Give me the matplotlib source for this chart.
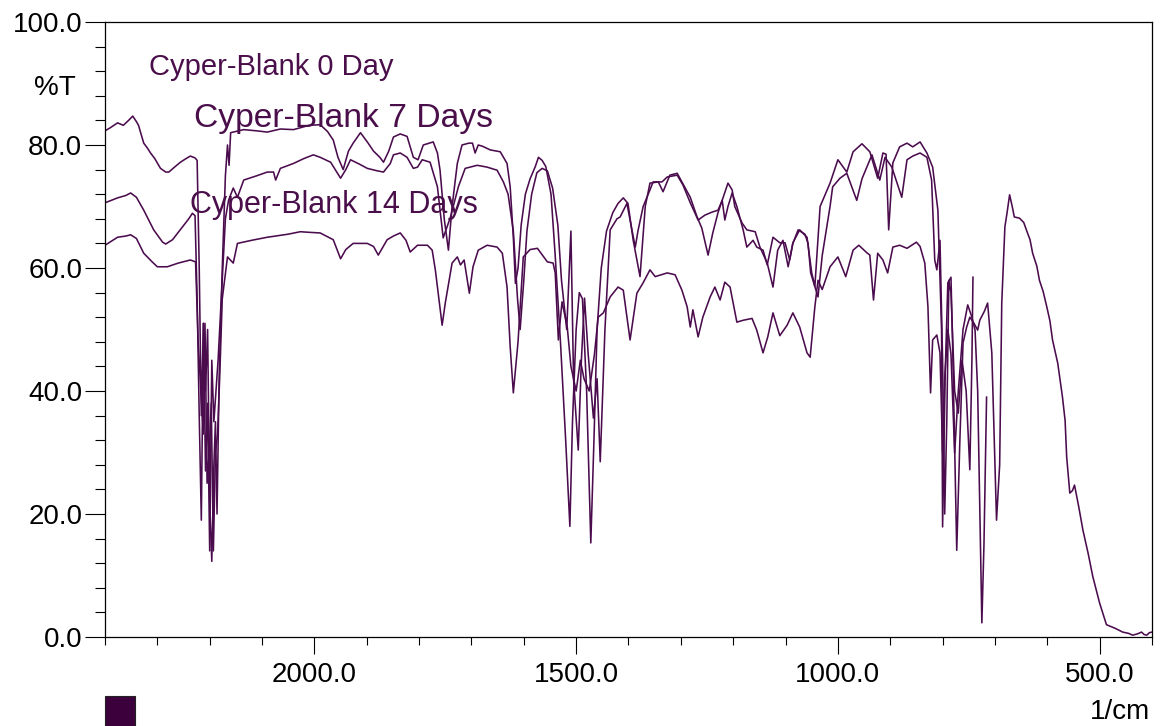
import matplotlib
matplotlib.use('Agg')
import matplotlib.pyplot as plt
from matplotlib.ticker import FixedLocator, MultipleLocator, FormatStrFormatter
from matplotlib.patches import Rectangle

plt.rcParams['font.family'] = ['Liberation Sans', 'DejaVu Sans']

## DATA (wavenumber in 1/cm, transmittance in %T)

day0_wn = [2400, 2390, 2376, 2365, 2355, 2347, 2340, 2336, 2326, 2319, 2313, 2305, 2294, 2284,
           2278, 2270, 2256, 2245, 2237, 2228, 2224, 2220, 2216, 2212, 2208, 2204, 2200, 2196,
           2192, 2189, 2186, 2182, 2176, 2170, 2166, 2163, 2160, 2150, 2135, 2110, 2090, 2065,
           2040, 2027, 2010, 1989, 1975, 1964, 1955, 1945, 1935, 1926, 1912, 1899, 1887, 1875,
           1868, 1858, 1849, 1836, 1823, 1811, 1802, 1792, 1773, 1765, 1760, 1752, 1744, 1737,
           1727, 1718, 1705, 1698, 1693, 1687, 1679, 1664, 1645, 1632, 1626, 1620, 1616, 1611,
           1605, 1597, 1588, 1578, 1572, 1565, 1558, 1548, 1540, 1530, 1520, 1512, 1507, 1500,
           1494, 1488, 1480, 1472, 1466, 1460, 1452, 1442, 1430, 1420, 1410, 1401, 1391, 1378,
           1368, 1359, 1343, 1334, 1321, 1307, 1298, 1282, 1269, 1260, 1248, 1239, 1229, 1219,
           1210, 1202, 1197, 1183, 1174, 1158, 1149, 1135, 1124, 1115, 1105, 1095, 1086, 1073,
           1059, 1050, 1044, 1034, 1015, 1000, 983, 971, 954, 939, 924, 914, 908, 903, 895,
           882, 868, 857, 843, 830, 819, 809, 802, 800, 795, 790, 784, 781, 773, 767, 761, 754,
           748, 740, 733, 729, 720, 714, 706, 697, 691, 687, 681, 677, 672, 667, 663, 653, 645,
           640, 633, 628, 620, 615, 608, 601, 595, 590, 580, 571, 566, 563, 557, 552, 548, 540,
           532, 522, 513, 500, 487, 470, 456, 445, 437, 428, 420, 415, 410, 405, 400]
day0_t = [82.3, 82.8, 83.6, 83.2, 84.0, 84.7, 83.8, 83.2, 80.3, 79.5, 78.7, 77.8, 76.2, 75.6,
          75.6, 76.2, 77.2, 77.8, 78.2, 77.9, 77.5, 60, 36, 51, 40, 50, 22, 12.3,
          28, 35, 20, 42, 60, 75, 80, 76.7, 82, 82.2, 82.5, 82.3, 82.1, 82.6,
          82.5, 82.8, 83.2, 83.3, 82.2, 80.8, 78, 76, 79, 80.3, 82, 80.5, 79, 78,
          77.2, 79, 81.3, 81.8, 81.4, 78, 77.6, 80, 80.5, 78.7, 75.9, 68, 62.9, 70,
          77, 80, 80.3, 80.3, 78.7, 80, 79.8, 79.2, 78.9, 77, 73.2, 65, 57.5, 60,
          67, 72, 74.5, 76.5, 78, 77.5, 76.5, 72, 62, 48, 32, 18, 35, 50,
          56, 55, 40, 15.3, 32, 50, 60, 66, 69, 70.5, 71.4, 70.5, 64.5, 58.6,
          70, 73.8, 74, 72.4, 75.1, 75.4, 74, 71.5, 68.3, 66.5, 62.1, 65.7, 69, 71.5,
          73.8, 72.7, 70, 67.3, 66.2, 65.9, 63.4, 60.8, 56.9, 62.9, 64.5, 60.2, 64.1, 66.2,
          65, 59.2, 57, 70, 73.8, 77.6, 75.6, 78.9, 80.2, 78.9, 74.6, 78.7, 78.5, 66.2, 77.1,
          79.7, 80.3, 79.7, 80.5, 78.7, 76.4, 69.4, 50, 17.9, 43, 57.6, 58.5, 48, 14.1, 32, 47.8, 50.4,
          52, 51, 49.9, 51.5, 53, 54.3, 46.2, 19, 28, 54.3, 66.7, 68.9, 71.9, 70, 68.3, 68.1, 67.4,
          66.2, 64.6, 62.4, 60.3, 58, 56.2, 53.7, 51.4, 48.3, 44.5, 39, 35.2, 29.3, 23.4, 23.8, 24.7, 21.2,
          17.4, 13.6, 9.8, 5.5, 2, 1.4, 0.8, 0.6, 0.3, 0.5, 0.8, 0.4, 0.3, 0.7, 0.8]

day7_wn = [2400, 2376, 2360, 2351, 2340, 2326, 2307, 2290, 2284, 2271, 2252, 2240, 2233, 2228,
           2224, 2220, 2216, 2212, 2208, 2204, 2200, 2196, 2192, 2188, 2184, 2178, 2170, 2164,
           2155, 2147, 2135, 2110, 2090, 2078, 2074, 2065, 2040, 2020, 2002, 1989, 1969, 1950,
           1940, 1931, 1912, 1899, 1880, 1868, 1855, 1849, 1836, 1823, 1811, 1803, 1794, 1779,
           1765, 1754, 1740, 1725, 1712, 1689, 1670, 1651, 1639, 1630, 1620, 1612, 1607, 1600,
           1594, 1585, 1575, 1565, 1555, 1545, 1535, 1528, 1518, 1510, 1505, 1496, 1490, 1484,
           1477, 1467, 1460, 1454, 1445, 1435, 1422, 1416, 1403, 1393, 1387, 1382, 1372, 1359,
           1353, 1336, 1326, 1307, 1296, 1282, 1267, 1254, 1240, 1229, 1221, 1216, 1210, 1202,
           1193, 1181, 1174, 1162, 1155, 1143, 1135, 1124, 1111, 1101, 1092, 1086, 1076, 1063,
           1057, 1052, 1044, 1038, 1030, 1015, 1010, 996, 983, 964, 954, 935, 920, 910, 897,
           878, 868, 857, 843, 830, 821, 815, 811, 805, 800, 796, 792, 788, 784, 777, 770,
           763, 755, 748, 744, 742]
day7_t = [70.6, 71.4, 71.8, 72.2, 71.5, 69.4, 66.2, 64.2, 63.9, 64.6, 66.7, 68, 68.9, 68.5,
          55, 36, 19, 51, 27, 38, 14, 45, 35, 40, 45, 55, 68, 71,
          73, 71.5, 74.3, 75, 75.6, 75.6, 74.3, 76.2, 77, 77.8, 78.4, 78, 77.2, 74.6,
          76, 77.6, 76.8, 76.2, 75.8, 75.6, 77, 78.4, 78.7, 78, 76.2, 76.4, 77.6, 77.2,
          73.2, 64.9, 68.3, 73.2, 76.2, 76.7, 76.4, 75.9, 74, 72, 66, 55, 50, 58,
          66, 72, 75.5, 76.2, 75.8, 73, 67, 58, 50, 66, 42, 30.4, 45, 55.1,
          46, 35.6, 42, 28.5, 50, 66.2, 68, 68.3, 70.5, 66, 63.4, 66, 70, 72.7,
          74, 74, 74.8, 75.1, 73.5, 70.6, 67.8, 68.6, 69.1, 69.4, 71, 67.8, 70, 72.2,
          70, 66.2, 63.4, 64.5, 63.4, 62.9, 60.5, 65, 64.1, 64.1, 61.3, 64, 66.2, 65.5,
          64, 59.2, 57, 55.3, 62, 70, 73.2, 74.6, 75.4, 71, 74.5, 78.4, 74.3, 78, 76.4,
          71.5, 77.6, 78.2, 78.7, 78, 74.3, 61.3, 59.7, 64.5, 45, 20, 35, 58, 56, 40, 36.4,
          45, 40, 27.2, 45, 58.5]

day14_wn = [2400, 2385, 2376, 2360, 2351, 2340, 2326, 2310, 2300, 2281, 2260, 2237, 2227, 2222,
            2217, 2212, 2209, 2205, 2201, 2197, 2193, 2189, 2185, 2181, 2176, 2166, 2155, 2147,
            2120, 2090, 2050, 2027, 2010, 1989, 1964, 1950, 1940, 1926, 1899, 1887, 1878, 1861,
            1849, 1836, 1825, 1817, 1803, 1784, 1775, 1769, 1756, 1750, 1737, 1727, 1721, 1714,
            1704, 1697, 1687, 1670, 1651, 1641, 1632, 1626, 1620, 1611, 1601, 1588, 1574, 1555,
            1544, 1540, 1534, 1527, 1517, 1510, 1500, 1492, 1485, 1475, 1465, 1458, 1448, 1435,
            1420, 1410, 1397, 1384, 1372, 1359, 1349, 1326, 1311, 1298, 1288, 1282, 1277, 1267,
            1258, 1244, 1235, 1225, 1216, 1206, 1193, 1181, 1164, 1155, 1143, 1134, 1124, 1111,
            1097, 1086, 1073, 1059, 1053, 1044, 1038, 1030, 1015, 1000, 985, 971, 960, 945,
            939, 932, 924, 914, 905, 895, 882, 868, 850, 843, 834, 828, 823, 819, 811, 805,
            800, 796, 790, 784, 777, 770, 761, 752, 744, 738, 733, 725, 721, 716]
day14_t = [63.7, 64.5, 65, 65.2, 65.4, 64.8, 62.4, 61, 60.2, 60.2, 60.8, 61.3, 61, 48,
           40, 33, 51, 25, 30, 38, 14, 30, 33, 42, 55, 61.8, 60.8, 64,
           64.5, 65, 65.5, 65.9, 65.8, 65.7, 64.6, 61.5, 63, 64, 64, 63.5, 62.1, 64.6,
           65.2, 65.7, 64.5, 62.6, 63.7, 63.7, 62.9, 59.7, 50.7, 54.3, 60.8, 61.8, 60.5, 61.3,
           55.9, 60.2, 62.9, 63.7, 63.4, 62.4, 56.9, 47.2, 39.7, 48, 61.8, 63, 63.2, 61,
           60.8, 59.2, 48.3, 54.5, 50.4, 44, 40, 45, 42, 40, 46, 52, 52.7, 55.3,
           56.9, 56.4, 48.3, 55.9, 57.6, 59.7, 58.6, 59.2, 58.9, 56.4, 53.7, 50.4, 53.2, 48.8,
           52, 55.3, 56.9, 54.8, 57.7, 56.9, 51.2, 51.5, 51.8, 49.9, 46.2, 48.8, 52.7, 49,
           50.7, 52.7, 50.4, 46.2, 45.5, 53.7, 58, 56.5, 60.2, 61.8, 58.6, 62.9, 63.7, 62.5,
           62.1, 54.8, 62.4, 61.3, 59.2, 63.4, 63.7, 63.2, 64.2, 63.5, 60.8, 53.7, 39.7, 48.3, 49.1, 46.2,
           30, 42, 50, 46, 29.9, 40, 50, 54, 52, 49.9, 40, 2.3, 15, 39]

labels = ['Cyper-Blank 0 Day', 'Cyper-Blank 7 Days', 'Cyper-Blank 14 Days']

W, H = 1161, 726
LINE_COLOR = '#4b0c4e'
TEXT_COLOR = '#4a0f4a'

fig = plt.figure(figsize=(W / 100, H / 100), dpi=100)
ax = fig.add_axes([105 / W, 1 - 637 / H, (1152 - 105) / W, (637 - 22) / H])

for wn, t in [(day0_wn, day0_t), (day7_wn, day7_t), (day14_wn, day14_t)]:
    ax.plot(wn, t, color=LINE_COLOR, lw=1.15)

ax.set_xlim(2400, 400)
ax.set_ylim(0, 100)

ax.xaxis.set_major_locator(FixedLocator([2000, 1500, 1000, 500]))
ax.xaxis.set_minor_locator(MultipleLocator(100))
ax.yaxis.set_major_locator(MultipleLocator(20))
ax.yaxis.set_minor_locator(MultipleLocator(4))
ax.xaxis.set_major_formatter(FormatStrFormatter('%.1f'))
ax.yaxis.set_major_formatter(FormatStrFormatter('%.1f'))

ax.tick_params(axis='x', which='major', direction='out', length=12.2, width=0.8, pad=5.5, labelsize=20)
ax.tick_params(axis='x', which='minor', direction='out', length=5.8, width=0.8)
ax.tick_params(axis='y', which='major', direction='out', length=14.4, width=0.8, pad=2, labelsize=20)
ax.tick_params(axis='y', which='minor', direction='out', length=7.2, width=0.8)
for s in ax.spines.values():
    s.set_linewidth(0.9)

# labels and curve names
fig.text(55 / W, 1 - 88 / H, '%T', ha='center', va='center', fontsize=20)
fig.text(1150 / W, 1 - 712 / H, '1/cm', ha='right', va='center', fontsize=20)
fig.text(149 / W, 1 - 67 / H, labels[0], ha='left', va='center', fontsize=21, color=TEXT_COLOR)
fig.text(194 / W, 1 - 118 / H, labels[1], ha='left', va='center', fontsize=24.2, color=TEXT_COLOR)
fig.text(190 / W, 1 - 205 / H, labels[2], ha='left', va='center', fontsize=22, color=TEXT_COLOR)

# colour box at the bottom
fig.patches.append(Rectangle((105 / W, 0), 30 / W, 30 / H, transform=fig.transFigure,
                             facecolor='#3c003c', edgecolor='#222222', lw=0.8))

fig.savefig('out.png', dpi=100)
